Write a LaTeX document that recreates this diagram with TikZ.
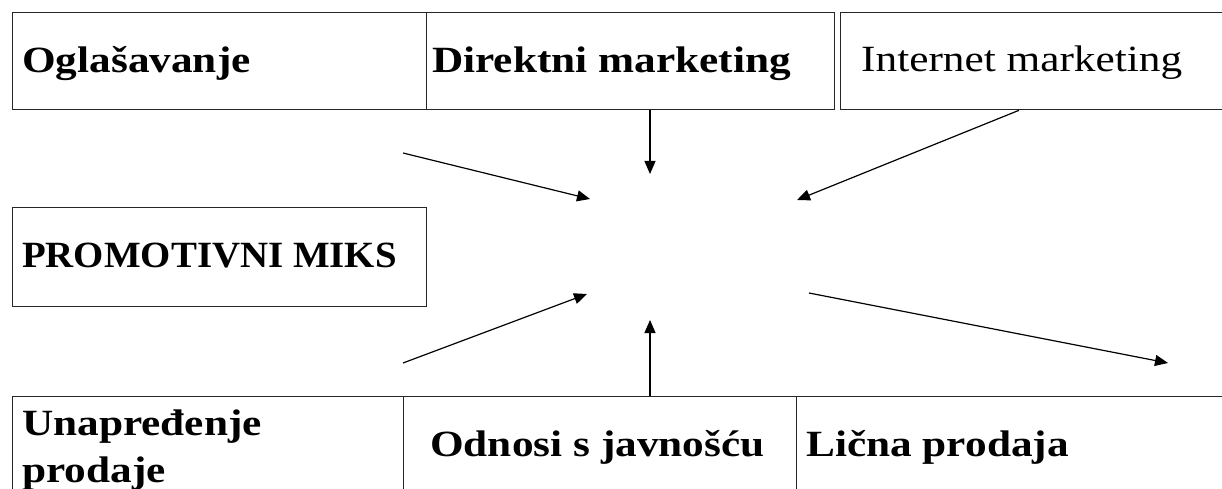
\documentclass[tikz,border=0pt]{standalone}
\usepackage{fontspec}
\setmainfont{Liberation Serif}
\usetikzlibrary{arrows.meta}
\newcommand\stretchtxt[2][1.17]{\scalebox{#1}[1]{#2}}
\begin{document}
\begin{tikzpicture}[x=1pt,y=-1pt,
  box/.style={draw=black!85, line width=1.3pt, anchor=north west, inner sep=0pt},
  lbl/.style={anchor=base west, inner sep=0pt, font=\bfseries\fontsize{37}{40}\selectfont},
  lblr/.style={anchor=base west, inner sep=0pt, font=\fontsize{37}{40}\selectfont},
  conn/.style={line width=1.2pt, -{Triangle[length=13pt,width=11pt]}}]
\useasboundingbox (0,0) rectangle (1222,489);
\clip (0,0) rectangle (1222,489);
% boxes
\node[box, minimum width=414pt, minimum height=97pt] (bA) at (12,12) {};
\node[box, minimum width=408pt, minimum height=97pt] (bB) at (426,12) {};
\node[box, minimum width=420pt, minimum height=97pt] (bC) at (840,12) {};
\node[box, minimum width=414pt, minimum height=99pt] (bP) at (12,207) {};
\node[box, minimum width=391pt, minimum height=140pt] (bU) at (12,396) {};
\node[box, minimum width=393pt, minimum height=140pt] (bO) at (403,396) {};
\node[box, minimum width=440pt, minimum height=140pt] (bL) at (796,396) {};
% labels
\node[lbl] (tA) at (22,73) {\stretchtxt{Oglašavanje}};
\node[lbl] (tB) at (432,73) {\stretchtxt{Direktni marketing}};
\node[lblr] (tC) at (861,72) {\stretchtxt{Internet marketing}};
\node[lbl] (tP) at (22,267) {\stretchtxt[1.05]{PROMOTIVNI MIKS}};
\node[lbl, anchor=north west, align=left] (tU) at (22,410) {\stretchtxt{Unapređenje}\\[7pt]\stretchtxt{prodaje}};
\node[lbl] (tO) at (430,456) {\stretchtxt{Odnosi s javnošću}};
\node[lbl] (tL) at (806,456) {\stretchtxt{Lična prodaja}};
% arrow ends
\coordinate (a1s) at (403,153);
\coordinate (a1e) at (590,199);
\coordinate (d1) at (650,174);
\coordinate (i1) at (797,200);
\coordinate (a4s) at (403,363);
\coordinate (a4e) at (587,294);
\coordinate (d2) at (650,320);
\coordinate (a6s) at (809,293);
\coordinate (a6e) at (1168,363);
% connectors
\draw[conn] (a1s) -- (a1e);
\draw[conn] (d1 |- bB.south) -- (d1);
\draw[conn] ([xshift=179pt]bC.south west) -- (i1);
\draw[conn] (a4s) -- (a4e);
\draw[conn] (d2 |- bO.north) -- (d2);
\draw[conn] (a6s) -- (a6e);
\end{tikzpicture}
\end{document}
